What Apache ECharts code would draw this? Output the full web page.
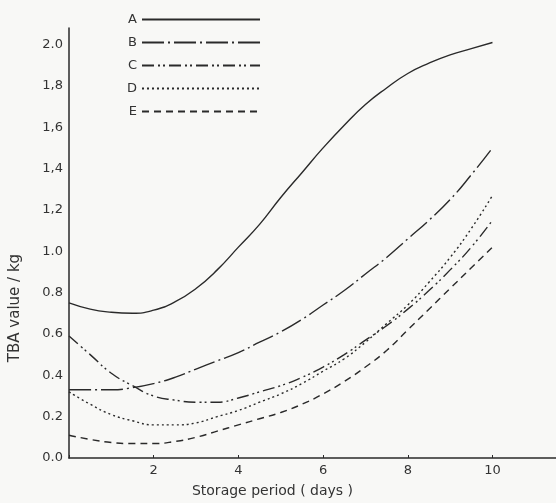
<!DOCTYPE html>
<html>
<head>
<meta charset="utf-8">
<script src="https://cdn.jsdelivr.net/npm/echarts@6/dist/echarts.min.js"></script>
<style>html,body{margin:0;padding:0;background:#f8f8f6;}#c{width:556px;height:503px;}</style>
</head>
<body>
<div id="c"></div>
<script>
var days = [0,0.5,1,1.5,2,2.5,3,3.5,4,4.5,5,5.5,6,6.5,7,7.5,8,8.5,9,9.5,10];
var seriesNames = ['A','B','C','D','E'];
var serA = [0.75,0.72,0.705,0.70,0.715,0.755,0.82,0.91,1.02,1.13,1.26,1.38,1.50,1.61,1.71,1.79,1.86,1.91,1.95,1.98,2.01];
var serB = [0.33,0.33,0.33,0.34,0.36,0.39,0.43,0.47,0.51,0.56,0.61,0.67,0.74,0.81,0.89,0.97,1.06,1.15,1.25,1.37,1.50];
var serC = [0.59,0.50,0.41,0.35,0.30,0.28,0.27,0.27,0.29,0.32,0.35,0.39,0.44,0.50,0.57,0.64,0.72,0.81,0.91,1.02,1.15];
var serD = [0.32,0.26,0.21,0.18,0.16,0.16,0.17,0.20,0.23,0.27,0.31,0.36,0.42,0.48,0.56,0.65,0.74,0.85,0.97,1.11,1.27];
var serE = [0.11,0.09,0.075,0.07,0.07,0.08,0.10,0.13,0.16,0.19,0.22,0.26,0.31,0.37,0.44,0.52,0.62,0.72,0.82,0.92,1.02];
var yTickLabels = {'0':'0.0','0.2':'0.2','0.4':'0.4','0.6':'0.6','0.8':'0.8','1':'1.0','1.2':'1,2','1.4':'1,4','1.6':'1,6','1.8':'1,8','2':'2.0'};
var xTickLabels = {'2':'2','4':'4','6':'6','8':'8','10':'10'};

var allData = [serA, serB, serC, serD, serE];
var dashes = ['solid', [22,4,2,4], [12,4,2,3,2,4], [2,3], [7,5]];
var ink = '#2a2a2a';

function pairs(vals){ return days.map(function(d,i){ return [d, vals[i]]; }); }

var chart = echarts.init(document.getElementById('c'), null, {renderer:'canvas'});
chart.setOption({
  backgroundColor: '#f8f8f6',
  animation: false,
  textStyle: {fontFamily: 'DejaVu Sans', color: '#333'},
  grid: {left: 68, right: 0, top: 28, bottom: 41, containLabel: false},
  legend: {
    orient: 'vertical', left: 122, top: 8, align: 'right',
    itemWidth: 118, itemHeight: 14, itemGap: 10,
    itemStyle: {opacity: 0},
    textStyle: {fontSize: 13, color: '#333', fontFamily: 'DejaVu Sans'},
    data: seriesNames
  },
  xAxis: {
    type: 'value', min: 0, max: 11.5, interval: 2,
    name: 'Storage period ( days )', nameLocation: 'middle', nameGap: 26,
    nameTextStyle: {fontSize: 14, color: '#333', padding: [0, 80, 0, 0]},
    axisLine: {lineStyle: {color: ink, width: 1.5}},
    axisTick: {show: true, inside: true, length: 3, lineStyle: {color: ink}},
    axisLabel: {fontSize: 13, color: '#333', margin: 6, showMaxLabel: false,
      formatter: function(v){ return xTickLabels[String(v)] || ''; }},
    splitLine: {show: false}
  },
  yAxis: {
    type: 'value', min: 0, max: 2.08, interval: 0.2,
    name: 'TBA value / kg', nameLocation: 'middle', nameGap: 46, nameRotate: 90,
    nameTextStyle: {fontSize: 15, color: '#333', padding: [0, 130, 0, 0]},
    axisLine: {show: true, lineStyle: {color: ink, width: 1.5}},
    axisTick: {show: false},
    axisLabel: {fontSize: 13, color: '#333', margin: 6, showMaxLabel: false,
      formatter: function(v){ var k = String(Math.round(v*10)/10); return yTickLabels[k] || ''; }},
    splitLine: {show: false}
  },
  series: seriesNames.map(function(n, i){
    return {
      name: n, type: 'line', smooth: true, symbol: 'none',
      data: pairs(allData[i]),
      itemStyle: {color: ink},
      lineStyle: {color: ink, width: 1.4, type: dashes[i]}
    };
  })
});
</script>
</body>
</html>
